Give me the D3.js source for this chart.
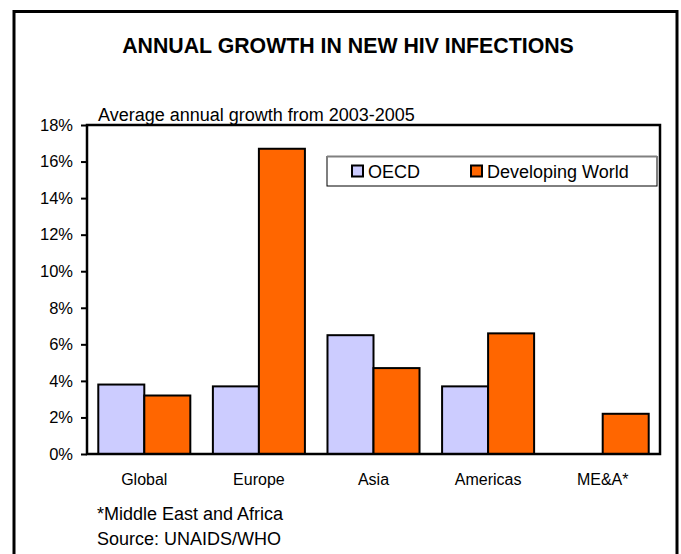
<!DOCTYPE html>
<html>
<head>
<meta charset="utf-8">
<script src="https://cdn.jsdelivr.net/npm/d3@7/dist/d3.min.js"></script>
<style>
  html, body { margin: 0; padding: 0; background: #fff; }
  svg { display: block; }
  text { font-family: "Liberation Sans", Arial, sans-serif; fill: #000; }
</style>
</head>
<body>
<svg id="chart" width="681" height="554"></svg>
<script>
// Annual growth in new HIV infections, 2003-2005 average (%)
const categories = ["Global", "Europe", "Asia", "Americas", "ME&A*"];
const oecd = [3.8, 3.7, 6.5, 3.7, null];
const developing = [3.2, 16.7, 4.7, 6.6, 2.2];
const seriesNames = ["OECD", "Developing World"];
const seriesColors = ["#CCCCFF", "#FF6600"];
const yTicks = [0, 2, 4, 6, 8, 10, 12, 14, 16, 18];

const svg = d3.select("#chart");
const FONT = "'Liberation Sans', Arial, sans-serif";

// Outer frame
svg.append("rect")
  .attr("x", 14).attr("y", 11.5)
  .attr("width", 663).attr("height", 560)
  .attr("fill", "none").attr("stroke", "#000").attr("stroke-width", 3);

// Title
svg.append("text")
  .attr("x", 348).attr("y", 53)
  .attr("text-anchor", "middle")
  .style("font-size", "21.3px").style("font-weight", "bold")
  .text("ANNUAL GROWTH IN NEW HIV INFECTIONS");

// Subtitle
svg.append("text")
  .attr("x", 98).attr("y", 121)
  .style("font-size", "18px")
  .text("Average annual growth from 2003-2005");

const plot = { left: 87, right: 660, top: 125, bottom: 454 };

const x0 = d3.scaleBand()
  .domain(categories)
  .range([plot.left, plot.right])
  .paddingInner(0.197)
  .paddingOuter(0.0985);

const x1 = d3.scaleBand()
  .domain(seriesNames)
  .range([0, x0.bandwidth()]);

const y = d3.scaleLinear().domain([0, 18]).range([plot.bottom, plot.top]);

// Bars
const rows = categories.map((c, i) => ({ cat: c, values: [oecd[i], developing[i]] }));
const groups = svg.append("g").selectAll("g")
  .data(rows).join("g")
  .attr("transform", d => `translate(${x0(d.cat)},0)`);

groups.selectAll("rect")
  .data(d => d.values.map((v, j) => ({ v, j })).filter(e => e.v != null))
  .join("rect")
  .attr("x", e => x1(seriesNames[e.j]))
  .attr("width", x1.bandwidth())
  .attr("y", e => y(e.v))
  .attr("height", e => y(0) - y(e.v))
  .attr("fill", e => seriesColors[e.j])
  .attr("stroke", "#000")
  .attr("stroke-width", 2);

// Plot area frame
svg.append("rect")
  .attr("x", plot.left).attr("y", plot.top)
  .attr("width", plot.right - plot.left).attr("height", plot.bottom - plot.top)
  .attr("fill", "none").attr("stroke", "#000").attr("stroke-width", 2.5);

// Y axis
const yAxis = svg.append("g")
  .attr("transform", `translate(${plot.left},0)`)
  .call(d3.axisLeft(y).tickValues(yTicks).tickFormat(d => d + "%").tickSize(6).tickPadding(8));
yAxis.select(".domain").remove();
yAxis.selectAll(".tick line").attr("stroke", "#000").attr("stroke-width", 2);
yAxis.selectAll(".tick text")
  .style("font-size", "16.5px")
  .style("font-family", FONT)
  .attr("fill", "#000");

// X axis
const xAxis = svg.append("g")
  .attr("transform", `translate(0,${plot.bottom})`)
  .call(d3.axisBottom(x0).tickSize(0).tickPadding(20));
xAxis.select(".domain").remove();
xAxis.selectAll(".tick text")
  .style("font-size", "16px")
  .style("font-family", FONT)
  .attr("fill", "#000");

// Legend
const legend = svg.append("g");
legend.append("rect")
  .attr("x", 327).attr("y", 156.5).attr("width", 330).attr("height", 29.5)
  .attr("fill", "#fff").attr("stroke", "#000").attr("stroke-width", 1);
legend.append("line")
  .attr("x1", 327).attr("x2", 657).attr("y1", 156.5).attr("y2", 156.5)
  .attr("stroke", "#808080").attr("stroke-width", 2);
const legendX = [352, 471];
seriesNames.forEach((name, i) => {
  legend.append("rect")
    .attr("x", legendX[i]).attr("y", 165.5).attr("width", 11).attr("height", 11)
    .attr("fill", seriesColors[i]).attr("stroke", "#000").attr("stroke-width", 2);
  legend.append("text")
    .attr("x", legendX[i] + 16).attr("y", 177.5)
    .style("font-size", "18px")
    .text(name);
});

// Footnotes
svg.append("text")
  .attr("x", 97).attr("y", 520)
  .style("font-size", "18px")
  .text("*Middle East and Africa");
svg.append("text")
  .attr("x", 97).attr("y", 545)
  .style("font-size", "18px")
  .text("Source: UNAIDS/WHO");
</script>
</body>
</html>
